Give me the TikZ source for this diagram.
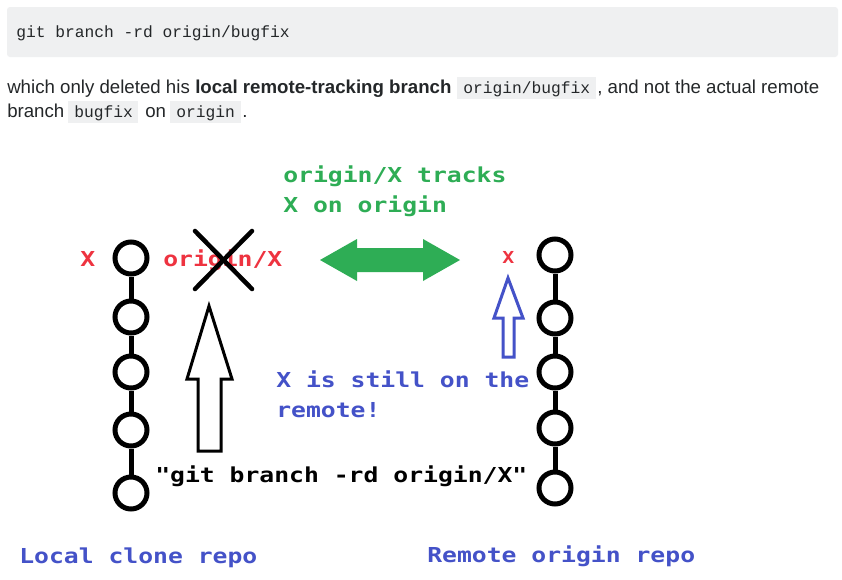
\documentclass[tikz,border=0pt]{standalone}
\usepackage{fontspec}
\setmainfont{Liberation Sans}
\setmonofont{Liberation Mono}
\newfontfamily\diafont[FakeStretch=1.2]{DejaVu Sans Mono}
\definecolor{txt}{HTML}{242729}
\definecolor{codebg}{HTML}{EFF0F1}
\definecolor{gred}{HTML}{EE3340}
\definecolor{ggreen}{HTML}{2EAD55}
\definecolor{gblue}{HTML}{4452C8}
\tikzset{
  bodytext/.style={font=\fontsize{14pt}{17pt}\selectfont, text=txt, inner sep=0, anchor=base west},
  boldtext/.style={bodytext, font=\fontsize{14pt}{17pt}\selectfont\bfseries},
  codetext/.style={font=\ttfamily\fontsize{12.2pt}{15pt}\selectfont, text=txt, inner sep=0, anchor=base west},
  codebox/.style={fill=codebg, draw=none},
  dtext/.style={font=\diafont\bfseries\fontsize{15.45pt}{22.5pt}\selectfont, inner sep=0, anchor=base west, align=left},
  commit/.style={circle, draw=black, line width=3.75pt, minimum size=24pt, inner sep=0},
  chain/.style={line width=3.75pt, black},
  hollow/.style={line width=2.25pt, line join=miter},
}
\begin{document}
\begin{tikzpicture}[x=0.75pt,y=-0.75pt]
\path[fill=white] (0,0) rectangle (842,579);
\useasboundingbox (0,0) rectangle (842,579);

% top code block
\fill[codebg, rounded corners=2.25pt] (7,7) rectangle (838,57);
\node[codetext] (cmd) at (16,37) {git branch -rd origin/bugfix};

% paragraph line 1
\node[bodytext] (p1) at (7,93) {which only deleted his};
\node[boldtext] (p2) at (195,93) {local remote-tracking branch};
\fill[codebg] (457,77) rectangle (596,99);
\node[codetext] (c1) at (463,93) {origin/bugfix};
\node[bodytext] (p3) at (597,93) {, and not the actual remote};
% paragraph line 2
\node[bodytext] (p4) at (7,117) {branch};
\fill[codebg] (68,101) rectangle (138,123);
\node[codetext] (c2) at (74,117) {bugfix};
\node[bodytext] (p5) at (145,117) {on};
\fill[codebg] (170,101) rectangle (241,123);
\node[codetext] (c3) at (176,117) {origin};
\node[bodytext] (p6) at (242,117) {.};

% left chain
\node[commit] (L1) at (131,258) {};
\node[commit] (L2) at (131,317) {};
\node[commit] (L3) at (131,372) {};
\node[commit] (L4) at (131,430) {};
\node[commit] (L5) at (131,493) {};
\draw[chain] (L1) -- (L2) (L2) -- (L3) (L3) -- (L4) (L4) -- (L5);

% right chain
\node[commit] (R1) at (555,255) {};
\node[commit] (R2) at (555,318) {};
\node[commit] (R3) at (555,372) {};
\node[commit] (R4) at (555,428) {};
\node[commit] (R5) at (555,488) {};
\draw[chain] (R1) -- (R2) (R2) -- (R3) (R3) -- (R4) (R4) -- (R5);

% labels
\node[dtext, text=gred] (lx) at (80,266) {X};
\node[dtext, text=gred] (lox) at (163,266) {origin/X};
\node[dtext, text=gred, font=\diafont\bfseries\fontsize{12.4pt}{15pt}\selectfont] (rx) at (502,263) {X};
\node[dtext, text=ggreen] (track) at (283,212) {origin/X tracks\\X on origin};
\node[dtext, text=gblue] (still) at (276,417) {X is still on the\\remote!};
\node[dtext, text=black] (gcmd) at (155,482) {"git branch -rd origin/X"};
\node[dtext, text=gblue] (local) at (19,563) {Local clone repo};
\node[dtext, text=gblue] (remote) at (427,562) {Remote origin repo};

% cross over origin/X
\draw[line width=3.4pt, line cap=round] (195,231) -- (252,289) (252,231) -- (195,289);

% green double arrow
\fill[ggreen] (320,260) -- (357,239) -- (357,248) -- (423,248) -- (423,239) -- (460,260)
  -- (423,281) -- (423,272) -- (357,272) -- (357,281) -- cycle;

% black hollow arrow
\draw[hollow, black] (209,306) -- (232,379) -- (221,379) -- (221,451) -- (198,451) -- (198,379) -- (187,379) -- cycle;

% blue hollow arrow
\draw[hollow, gblue] (508,278) -- (523,318) -- (514,318) -- (514,357) -- (503,357) -- (503,318) -- (494,318) -- cycle;
\end{tikzpicture}
\end{document}
